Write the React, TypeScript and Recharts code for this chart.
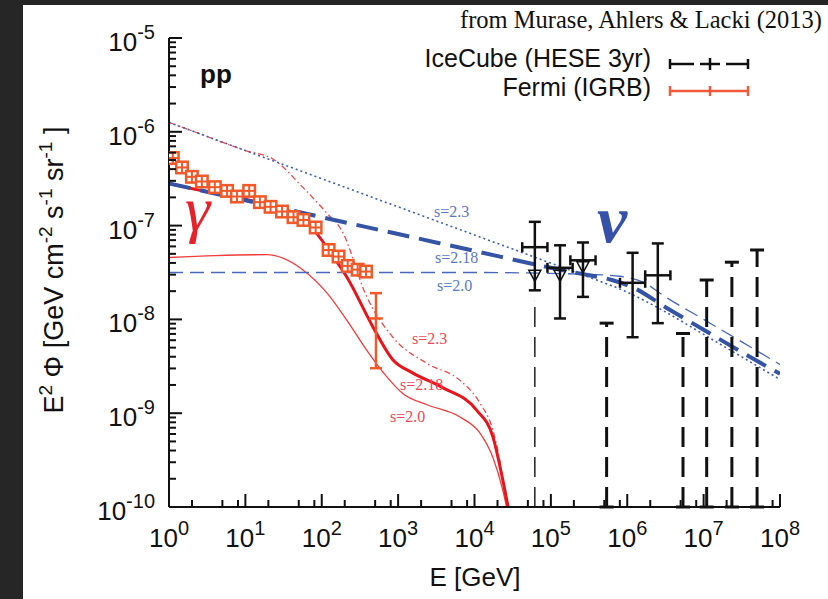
import React from 'react';
import { ComposedChart, Line, Scatter, XAxis, YAxis, ErrorBar } from 'recharts';

const SANS = '"Liberation Sans", Arial, Helvetica, sans-serif';
const SERIF = '"Liberation Serif", "Times New Roman", serif';

// all values are log10: E in GeV, E^2 Phi in GeV cm^-2 s^-1 sr^-1
const X_MIN = 0;
const X_MAX = 8;
const Y_MIN = -10;
const Y_MAX = -5;

const xDecades = [0, 1, 2, 3, 4, 5, 6, 7, 8];
const yDecades = [-10, -9, -8, -7, -6, -5];
const xMinorSteps = [2, 5, 8];
const yMinorSteps = [2, 3, 4, 5, 6, 7, 8, 9];

// neutrino models (blue)
const nu23LogE = [0, 1, 2, 3, 4, 5, 5.5, 6, 6.5, 7, 7.5, 8];
const nu23LogF = [-5.9, -6.2, -6.5, -6.8, -7.1, -7.4, -7.55, -7.71, -7.92, -8.16, -8.4, -8.64];
const nu218LogE = [0, 1, 2, 3, 4, 5, 5.5, 5.8, 6.1, 6.5, 7, 7.5, 8];
const nu218LogF = [-6.55, -6.73, -6.91, -7.09, -7.27, -7.45, -7.53, -7.58, -7.67, -7.87, -8.11, -8.35, -8.58];
const nu20LogE = [0, 2, 4, 5, 5.5, 5.9, 6.2, 6.5, 7, 7.5, 8];
const nu20LogF = [-7.5, -7.5, -7.5, -7.51, -7.52, -7.54, -7.6, -7.76, -8.0, -8.24, -8.48];

// gamma-ray models (red)
const ga23LogE = [0, 0.5, 1, 1.36, 1.75, 2.07, 2.26, 2.59, 2.93, 3.38, 3.81, 4.07, 4.24, 4.33, 4.42];
const ga23LogF = [-5.9, -6.05, -6.2, -6.29, -6.59, -6.87, -7.05, -7.76, -8.19, -8.47, -8.65, -8.89, -9.18, -9.5, -10];
const ga218LogE = [0, 0.5, 1, 1.5, 1.71, 1.93, 2.15, 2.33, 2.67, 2.93, 3.19, 3.59, 4.03, 4.24, 4.37, 4.44];
const ga218LogF = [-6.55, -6.64, -6.72, -6.82, -6.9, -7.08, -7.33, -7.55, -8.08, -8.43, -8.57, -8.73, -8.97, -9.25, -9.71, -10];
const ga20LogE = [0, 0.6, 1.28, 1.75, 2.07, 2.33, 2.59, 2.85, 3.06, 3.38, 3.81, 4.07, 4.24, 4.37, 4.42];
const ga20LogF = [-7.34, -7.32, -7.31, -7.47, -7.72, -8.01, -8.33, -8.61, -8.79, -8.91, -9.04, -9.21, -9.47, -9.82, -10];

// Fermi IGRB
const fermiLogE = [0.05, 0.17, 0.3, 0.43, 0.6, 0.76, 0.89, 1.05, 1.19, 1.33, 1.48, 1.63, 1.76, 1.92, 2.09, 2.22, 2.34, 2.47, 2.58];
const fermiLogF = [-6.28, -6.38, -6.48, -6.53, -6.59, -6.63, -6.69, -6.63, -6.75, -6.8, -6.85, -6.91, -6.94, -7.02, -7.26, -7.33, -7.43, -7.47, -7.49];
const fermiLastLogE = [2.71];
const fermiLastLogF = [-7.99];
const fermiLastHi = [-7.72];
const fermiLastLo = [-8.52];
const fermiLastHalfBin = 0.09;

// IceCube HESE 3yr
const icLogE = [4.79, 5.12, 5.42, 6.07, 6.4];
const icLogF = [-7.23, -7.45, -7.37, -7.61, -7.53];
const icLogFHi = [-6.96, -7.21, -7.18, -7.29, -7.19];
const icLogFLo = [-7.69, -7.99, -7.76, -8.19, -8.04];
const icHalfBin = 0.165;
const icTriLogE = [4.79, 5.12, 5.42];
const icTriLogF = [-7.53, -7.53, -7.44];
const icTailLogE = [4.79];
const icTailLogF = [-7.8];
const ulLogE = [5.73, 6.73, 7.04, 7.37, 7.7];
const ulLogF = [-8.04, -8.15, -7.58, -7.39, -7.26];

const pts = (xs: number[], ys: number[]) => xs.map((x, i) => ({ x, y: ys[i] }));

const icData = icLogE.map((x, i) => ({
  x,
  y: icLogF[i],
  ey: [icLogF[i] - icLogFLo[i], icLogFHi[i] - icLogF[i]],
  ex: icHalfBin,
}));
const ulData = ulLogE.map((x, i) => ({ x, y: ulLogF[i], ey: [ulLogF[i] - Y_MIN, 0] }));
const tailData = icTailLogE.map((x, i) => ({ x, y: icTailLogF[i], ey: [icTailLogF[i] - Y_MIN, 0] }));
const fermiLast = fermiLastLogE.map((x, i) => ({
  x,
  y: fermiLastLogF[i],
  ey: [fermiLastLogF[i] - fermiLastLo[i], fermiLastHi[i] - fermiLastLogF[i]],
  ex: fermiLastHalfBin,
}));

const xTicks = xDecades
  .flatMap((d) => [d, ...xMinorSteps.map((m) => d + Math.log10(m))])
  .filter((v) => v <= X_MAX + 1e-9);
const yTicks = yDecades
  .flatMap((d) => [d, ...yMinorSteps.map((m) => d + Math.log10(m))])
  .filter((v) => v <= Y_MAX + 1e-9);

const isMajor = (v: number) => Math.abs(v - Math.round(v)) < 1e-6;
const INK = '#111';
const MAJOR = 13;
const MINOR = 7;

const BottomTick = ({ x, y, payload }: any) => {
  const v = payload.value;
  const major = isMajor(v);
  return (
    <g>
      <line x1={x} x2={x} y1={y} y2={y - (major ? MAJOR : MINOR)} stroke={INK} strokeWidth={2} />
      {major && (
        <text x={x} y={y + 40} textAnchor="middle" fontFamily={SANS} fontSize={26} fill={INK}>
          10
          <tspan dy={-12} fontSize={20}>
            {Math.round(v)}
          </tspan>
        </text>
      )}
    </g>
  );
};

const TopTick = ({ x, y, payload }: any) => {
  const major = isMajor(payload.value);
  return <line x1={x} x2={x} y1={y} y2={y + (major ? MAJOR : MINOR)} stroke={INK} strokeWidth={2} />;
};

const LeftTick = ({ x, y, payload }: any) => {
  const v = payload.value;
  const major = isMajor(v);
  return (
    <g>
      <line x1={x} x2={x + (major ? MAJOR : MINOR)} y1={y} y2={y} stroke={INK} strokeWidth={2} />
      {major && (
        <text x={x - 14} y={y + 13} textAnchor="end" fontFamily={SANS} fontSize={26} fill={INK}>
          10
          <tspan dy={-12} fontSize={20}>
            {Math.round(v)}
          </tspan>
        </text>
      )}
    </g>
  );
};

const RightTick = ({ x, y, payload }: any) => {
  const major = isMajor(payload.value);
  return <line x1={x} x2={x - (major ? MAJOR : MINOR)} y1={y} y2={y} stroke={INK} strokeWidth={2} />;
};

const FermiBox = ({ cx, cy }: any) => (
  <g>
    <rect x={cx - 7} y={cy - 7} width={14} height={14} fill="#f1592a" />
    <rect x={cx - 4.5} y={cy - 4.5} width={3.5} height={3.5} fill="#fff" />
    <rect x={cx + 1} y={cy - 4.5} width={3.5} height={3.5} fill="#fff" />
    <rect x={cx - 4.5} y={cy + 1} width={3.5} height={3.5} fill="#fff" />
    <rect x={cx + 1} y={cy + 1} width={3.5} height={3.5} fill="#fff" />
  </g>
);

const Triangle = ({ cx, cy }: any) => (
  <polygon
    points={`${cx - 6},${cy - 5} ${cx + 6},${cy - 5} ${cx},${cy + 6}`}
    fill="none"
    stroke={INK}
    strokeWidth={1.5}
  />
);

const Nothing = () => <g />;

const sup = (s: string) => (
  <>
    <tspan dy={-11} fontSize={19}>
      {s}
    </tspan>
    <tspan dy={11}> </tspan>
  </>
);

export default function App() {
  return (
    <div style={{ position: 'relative', width: 828, height: 599, background: '#262626' }}>
      <style>{'body{margin:0}'}</style>
      <div style={{ position: 'absolute', left: 23, top: 5, width: 805, height: 594, background: '#fff' }} />
      <div style={{ position: 'absolute', left: 0, top: 0 }}>
        <ComposedChart width={828} height={599} margin={{ top: 38, right: 48, bottom: 0, left: 0 }}>
          <XAxis
            dataKey="x"
            type="number"
            domain={[X_MIN, X_MAX]}
            allowDataOverflow
            ticks={xTicks}
            interval={0}
            tick={<BottomTick />}
            tickSize={0}
            tickMargin={0}
            tickLine={false}
            height={92}
            axisLine={{ stroke: INK, strokeWidth: 2 }}
          />
          <XAxis
            xAxisId="top"
            orientation="top"
            type="number"
            domain={[X_MIN, X_MAX]}
            allowDataOverflow
            ticks={xTicks}
            interval={0}
            tick={<TopTick />}
            tickSize={0}
            tickMargin={0}
            tickLine={false}
            height={0}
            axisLine={{ stroke: INK, strokeWidth: 2 }}
          />
          <YAxis
            dataKey="y"
            type="number"
            domain={[Y_MIN, Y_MAX]}
            allowDataOverflow
            ticks={yTicks}
            interval={0}
            tick={<LeftTick />}
            tickSize={0}
            tickMargin={0}
            tickLine={false}
            width={169}
            axisLine={{ stroke: INK, strokeWidth: 2 }}
          />
          <YAxis
            yAxisId="right"
            orientation="right"
            type="number"
            domain={[Y_MIN, Y_MAX]}
            allowDataOverflow
            ticks={yTicks}
            interval={0}
            tick={<RightTick />}
            tickSize={0}
            tickMargin={0}
            tickLine={false}
            width={0}
            axisLine={{ stroke: INK, strokeWidth: 2 }}
          />

          <Scatter data={pts(fermiLogE, fermiLogF)} shape={<FermiBox />} isAnimationActive={false} />

          <Line data={pts(ga20LogE, ga20LogF)} dataKey="y" type="monotone" dot={false} activeDot={false}
            stroke="#f03c3c" strokeWidth={1.3} isAnimationActive={false} />
          <Line data={pts(ga23LogE, ga23LogF)} dataKey="y" type="monotone" dot={false} activeDot={false}
            stroke="#f04848" strokeWidth={1.3} strokeDasharray="6 3 1.5 3" isAnimationActive={false} />
          <Line data={pts(ga218LogE, ga218LogF)} dataKey="y" type="monotone" dot={false} activeDot={false}
            stroke="#e8141c" strokeWidth={3} isAnimationActive={false} />

          <Scatter data={fermiLast} shape={<Nothing />} isAnimationActive={false}>
            <ErrorBar dataKey="ey" direction="y" width={6} stroke="#f1592a" strokeWidth={2.5} isAnimationActive={false} />
            <ErrorBar dataKey="ex" direction="x" width={0} stroke="#f1592a" strokeWidth={2.5} isAnimationActive={false} />
          </Scatter>

          <Line data={pts(nu20LogE, nu20LogF)} dataKey="y" type="monotone" dot={false} activeDot={false}
            stroke="#4a68bb" strokeWidth={1.3} strokeDasharray="14 7" isAnimationActive={false} />
          <Line data={pts(nu23LogE, nu23LogF)} dataKey="y" type="monotone" dot={false} activeDot={false}
            stroke="#3f5fb5" strokeWidth={1.6} strokeDasharray="2 3" isAnimationActive={false} />
          <Line data={pts(nu218LogE, nu218LogF)} dataKey="y" type="monotone" dot={false} activeDot={false}
            stroke="#3554a5" strokeWidth={4} strokeDasharray="22 10" isAnimationActive={false} />

          <Scatter data={tailData} shape={<Nothing />} isAnimationActive={false}>
            <ErrorBar dataKey="ey" direction="y" width={0} stroke={INK} strokeWidth={1.4} strokeDasharray="20 10" isAnimationActive={false} />
          </Scatter>
          <Scatter data={ulData} shape={<Nothing />} isAnimationActive={false}>
            <ErrorBar dataKey="ey" direction="y" width={7} stroke={INK} strokeWidth={3} strokeDasharray="20 10" isAnimationActive={false} />
          </Scatter>
          <Scatter data={pts(icTriLogE, icTriLogF)} shape={<Triangle />} isAnimationActive={false} />
          <Scatter data={icData} shape={<Nothing />} isAnimationActive={false}>
            <ErrorBar dataKey="ey" direction="y" width={6} stroke={INK} strokeWidth={2.5} isAnimationActive={false} />
            <ErrorBar dataKey="ex" direction="x" width={5} stroke={INK} strokeWidth={2.5} isAnimationActive={false} />
          </Scatter>
        </ComposedChart>
      </div>

      <svg width={828} height={599} style={{ position: 'absolute', left: 0, top: 0, pointerEvents: 'none' }}>
        <text x={822} y={28} textAnchor="end" fontFamily={SERIF} fontSize={24.5} fill={INK}>
          from Murase, Ahlers &amp; Lacki (2013)
        </text>

        <text x={200} y={83} fontFamily={SANS} fontWeight="bold" fontSize={26} fill={INK}>pp</text>

        <text x={651} y={67} textAnchor="end" fontFamily={SANS} fontSize={25} fill={INK}>IceCube (HESE 3yr)</text>
        <text x={651} y={96} textAnchor="end" fontFamily={SANS} fontSize={25} fill={INK}>Fermi (IGRB)</text>
        <g stroke={INK} strokeWidth={2.5}>
          <line x1={670} x2={694} y1={64} y2={64} />
          <line x1={670} x2={670} y1={59} y2={69} />
          <line x1={700} x2={720} y1={64} y2={64} />
          <line x1={710} x2={710} y1={58} y2={70} />
          <line x1={726} x2={748} y1={64} y2={64} />
          <line x1={748} x2={748} y1={59} y2={69} />
        </g>
        <g stroke="#f05a3c" strokeWidth={2.5}>
          <line x1={670} x2={748} y1={91} y2={91} />
          <line x1={670} x2={670} y1={86} y2={96} />
          <line x1={710} x2={710} y1={86} y2={96} />
          <line x1={748} x2={748} y1={86} y2={96} />
        </g>

        <text x={185} y={230} fontFamily={SERIF} fontStyle="italic" fontSize={64} fill="#e8202a">γ</text>
        <text x={597} y={242} fontFamily={SERIF} fontStyle="italic" fontWeight="bold" fontSize={68} fill="#3552a8">ν</text>

        <g fontFamily={SERIF} fontSize={16} fill="#5b78c4">
          <text x={434} y={217}>s=2.3</text>
          <text x={435} y={263}>s=2.18</text>
          <text x={437} y={291}>s=2.0</text>
        </g>
        <g fontFamily={SERIF} fontSize={16} fill="#f0485a">
          <text x={412} y={344}>s=2.3</text>
          <text x={400} y={390}>s=2.18</text>
          <text x={390} y={422}>s=2.0</text>
        </g>

        <text transform="translate(63,270) rotate(-90)" textAnchor="middle" fontFamily={SANS} fontSize={27} fill={INK}>
          E{sup('2')}Φ [GeV cm{sup('-2')}s{sup('-1')}sr{sup('-1')}]
        </text>
        <text x={475} y={586} textAnchor="middle" fontFamily={SANS} fontSize={26} fill={INK}>E [GeV]</text>
      </svg>
    </div>
  );
}
